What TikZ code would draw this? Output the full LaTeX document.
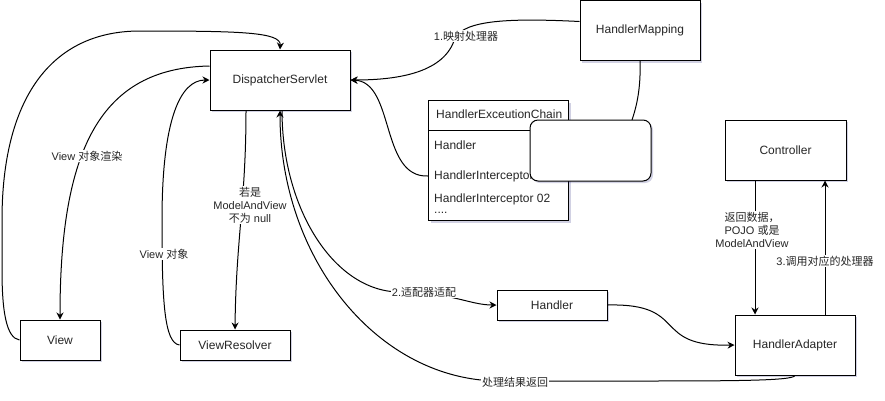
\documentclass[tikz,border=0pt]{standalone}
\usepackage{fontspec}
\setmainfont{Liberation Sans}
\newfontfamily\cjk{Noto Sans CJK SC}
\usetikzlibrary{arrows.meta,shadows}
\tikzset{
  box/.style={draw, fill=white, line width=1pt, inner sep=0pt, font=\fontsize{12}{14}\selectfont, text=black!85,
    drop shadow={shadow xshift=2pt, shadow yshift=-2pt, opacity=0.18, fill=blue!40!black}},
  lbl/.style={fill=white, inner sep=1pt, align=center, font=\fontsize{11}{13}\selectfont, text=black!85},
  arr/.style={line width=1pt, -{Stealth[length=7pt,width=7pt]}},
  ln/.style={line width=1pt},
  rowtxt/.style={anchor=west, inner sep=0pt, font=\fontsize{12}{14}\selectfont, text=black!85}
}
\begin{document}
\begin{tikzpicture}[x=1pt,y=-1pt]
\useasboundingbox (0,0) rectangle (885,400);
% nodes
\node[box, minimum width=140pt, minimum height=60pt] (ds) at (280,80) {DispatcherServlet};
\node[box, minimum width=120pt, minimum height=60pt] (hm) at (640,30.5) {HandlerMapping};
\node[box, minimum width=121pt, minimum height=60pt] (ctrl) at (785.5,150) {Controller};
\node[box, minimum width=80pt, minimum height=40pt] (view) at (60,340) {View};
\node[box, minimum width=110pt, minimum height=30pt] (vr) at (235,345) {ViewResolver};
\node[box, minimum width=110pt, minimum height=30pt] (handler) at (552,305) {Handler};
\node[box, minimum width=120pt, minimum height=60pt] (ha) at (795,345) {HandlerAdapter};
% chain
\node[box, minimum width=140pt, minimum height=120pt, anchor=north west] (chain) at (428,100) {};
\draw[ln] (chain.west |- 0,130) -- (chain.east |- 0,130);
\node[rowtxt] (chead) at (436,114) {HandlerExceutionChain};
\node[rowtxt] (r1) at (434,145) {Handler};
\node[rowtxt] (r2) at (434,176) {HandlerInterceptor};
\node[rowtxt] (r3) at (434,199) {HandlerInterceptor 02};
\node[rowtxt] (r4) at (434,213) {....};
% edges
\draw[ln] (hm.south) .. controls (641,90) and (636,108) .. (632,120);
\node[box, rounded corners=8pt, minimum width=121pt, minimum height=61pt] (rb) at (590.5,150.5) {};

\draw[arr] ([yshift=9pt]hm.west) .. controls (510,18) and (465,20) .. (455,38) .. controls (445,72) and (400,80) .. (ds.east);
\node[lbl] (l1) at (466,36) {1.{\cjk 映射处理器}};

\draw[arr] (chain.west |- r2) .. controls (380,178) and (395,82) .. (ds.east);

\draw[arr] ([xshift=-34pt]ds.south) .. controls (246,200) and (236,240) .. (vr.north);
\node[lbl] (l4) at (250,205) {{\cjk 若是}\\ModelAndView\\{\cjk 不为} null};

\draw[arr] (vr.west) .. controls (164,343) and (162,300) .. (162,220) .. controls (162,120) and (180,80) .. (ds.west);
\node[lbl] (l5) at (164,254) {View {\cjk 对象}};

\draw[arr] ([yshift=14pt]ds.west) .. controls (100,68) and (60,150) .. (view.north);
\node[lbl] (l6) at (87,156) {View {\cjk 对象渲染}};

\draw[arr] (view.west) .. controls (6,338) and (2,310) .. (2,270) -- (2,220) .. controls (2,100) and (50,31) .. (140,31) .. controls (240,31) and (281,32) .. (ds.north);

\draw[arr] ([xshift=2pt]ds.south) .. controls (282,210) and (335,292) .. (400,292) .. controls (450,292) and (470,305) .. (handler.west);
\node[lbl] (l8) at (424,292) {2.{\cjk 适配器适配}};

\draw[arr] (ha.south) .. controls (793,381) and (730,381) .. (620,381) -- (500,381) .. controls (378.5,381) and (280,259.7) .. (ds.south);
\node[lbl] (l9) at (515,382) {\cjk 处理结果返回};

\draw[arr] (handler.east) .. controls (690,303) and (650,347) .. (ha.west);

\draw[arr] (ctrl.south -| 755,0) -- (ha.north -| 755,0);
\node[lbl] (l10) at (752,230) {{\cjk 返回数据，}\\POJO {\cjk 或是}\\ModelAndView};

\draw[arr] (ha.north -| 825,0) -- (ctrl.south -| 825,0);
\node[lbl] (l11) at (825,261) {3.{\cjk 调用对应的处理器}};
\end{tikzpicture}
\end{document}
